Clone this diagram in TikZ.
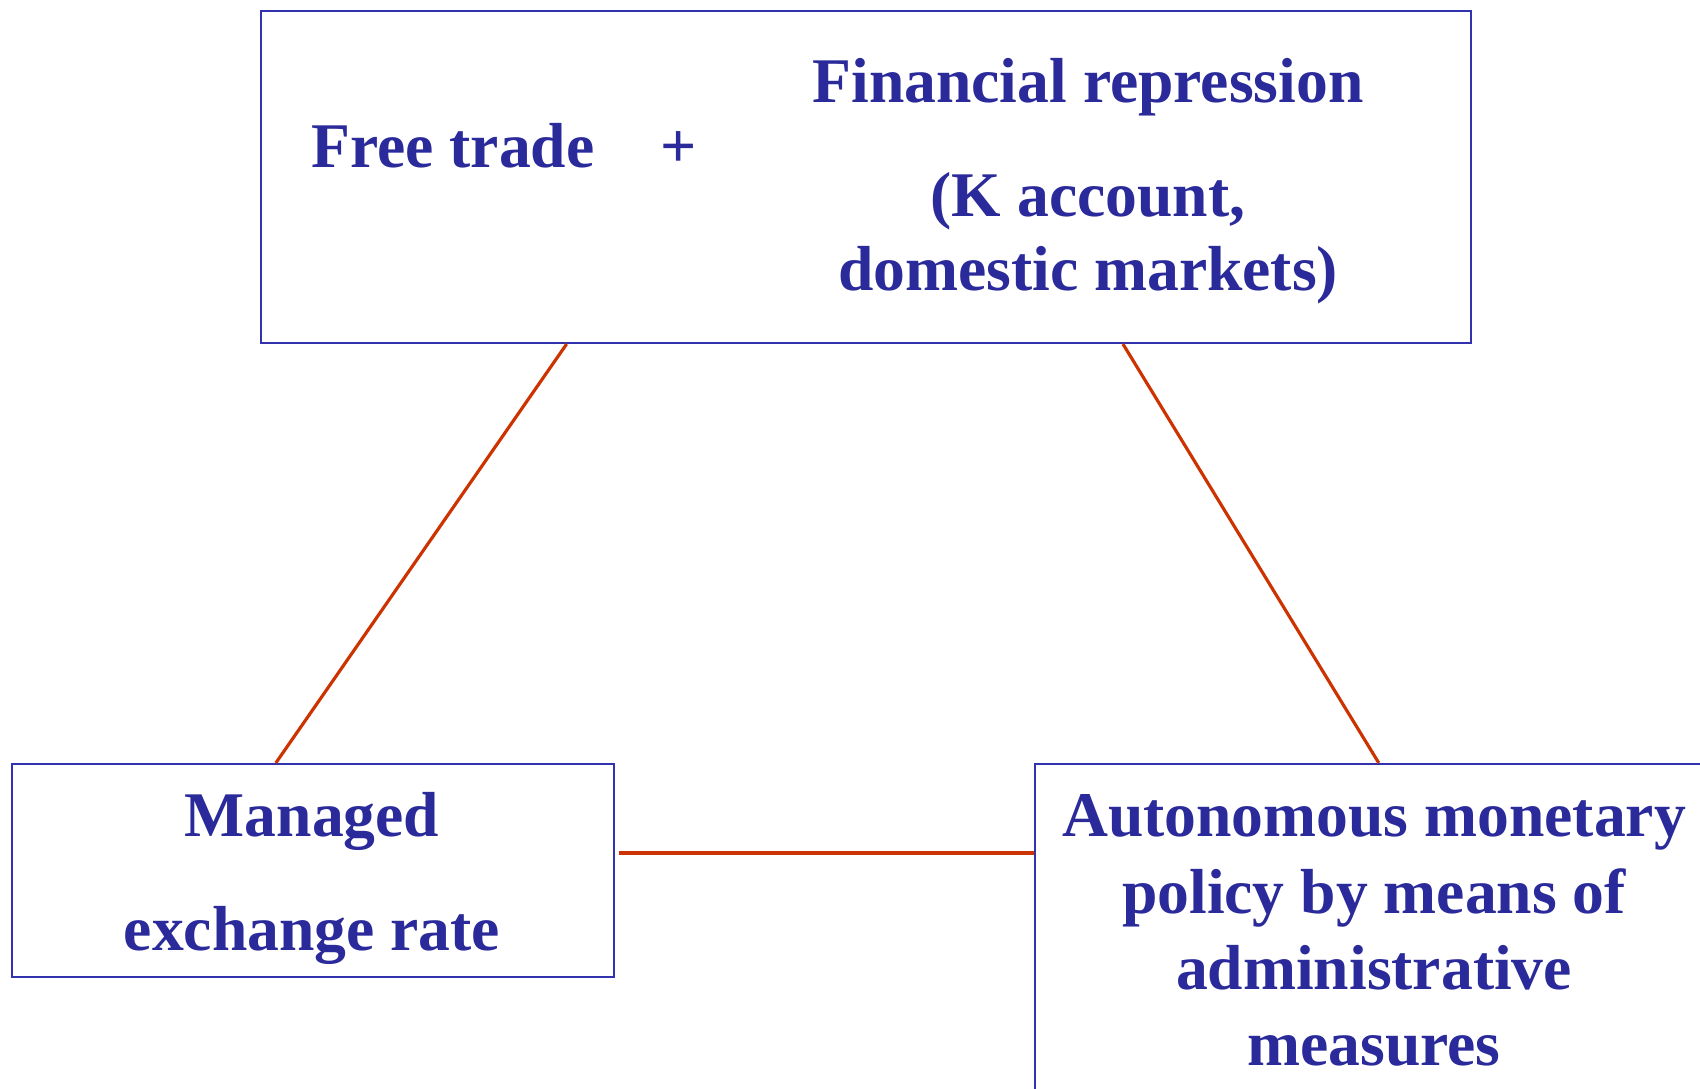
\documentclass[tikz,border=0pt]{standalone}
\usepackage{fontspec}
\setmainfont{Liberation Serif}
\usetikzlibrary{calc}
\definecolor{txtblue}{RGB}{42,42,155}
\definecolor{boxblue}{RGB}{50,50,175}
\definecolor{linkred}{RGB}{204,51,0}
\tikzset{
  box/.style={draw=boxblue,line width=0.6pt,inner sep=0pt},
  lbl/.style={anchor=base,inner sep=0pt,text=txtblue,font=\fontsize{18.1}{21}\selectfont\bfseries},
  link/.style={draw=linkred,line width=0.9pt}
}
\begin{document}
\begin{tikzpicture}
\useasboundingbox (0,0) rectangle (17,10.89);
\clip (0,0) rectangle (17,10.89);
% boxes
\node[box,minimum width=12.10cm,minimum height=3.32cm] (trade) at (8.66,9.12) {};
\node[box,minimum width=6.02cm,minimum height=2.13cm] (managed) at (3.13,2.185) {};
\node[box,minimum width=6.78cm,minimum height=3.36cm] (policy) at (13.74,1.57) {};
% texts
\node[lbl] (free) at (4.53,9.21) {Free trade};
\node[lbl] (plus) at (6.79,9.21) {+};
\node[lbl] (fin) at (10.88,9.86) {Financial repression};
\node[lbl] (kacc) at (10.88,8.72) {(K account,};
\node[lbl] (dom) at (10.88,7.98) {domestic markets)};
\node[lbl] (man) at (3.12,2.52) {Managed};
\node[lbl] (exch) at (3.12,1.38) {exchange rate};
\node[lbl] (auto) at (13.74,2.52) {Autonomous monetary};
\node[lbl] (means) at (13.74,1.75) {policy by means of};
\node[lbl] (admin) at (13.74,0.99) {administrative};
\node[lbl] (meas) at (13.74,0.23) {measures};
% links
\draw[link] ($(trade.south west)!0.253!(trade.south east)$) -- ($(managed.north west)!0.4385!(managed.north east)$);
\draw[link] ($(trade.south west)!0.712!(trade.south east)$) -- ($(policy.north west)!0.507!(policy.north east)$);
\draw[link] ([xshift=0.4mm,yshift=1.75mm]managed.east) -- ([yshift=1.75mm]managed.east -| policy.west);
\end{tikzpicture}
\end{document}
